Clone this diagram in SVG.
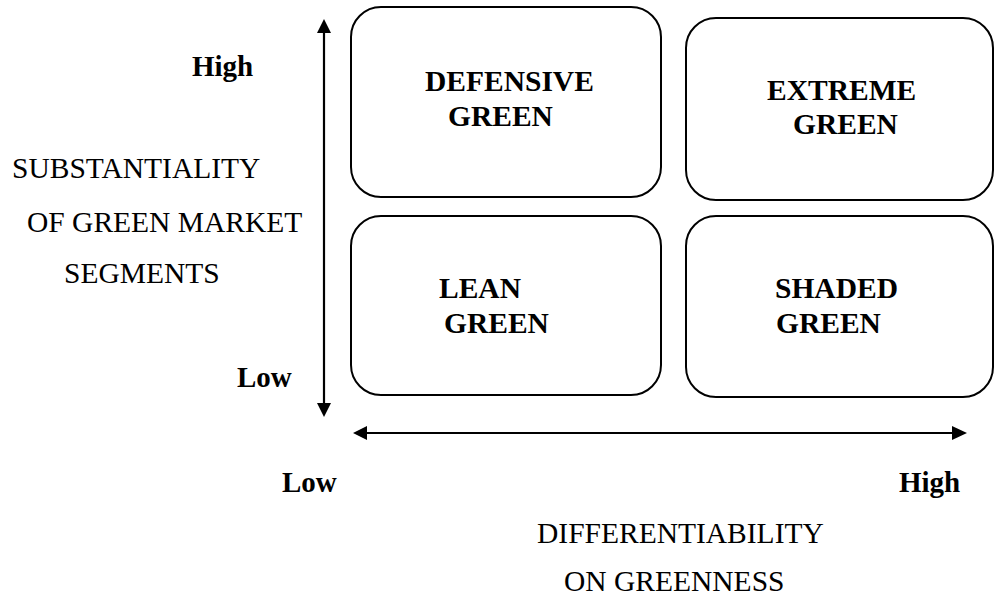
<svg xmlns="http://www.w3.org/2000/svg" width="995" height="597" viewBox="0 0 995 597">
<style>
.box{fill:#fff;stroke:#000;stroke-width:2}
.lbl{font-family:"Liberation Serif","Times New Roman",serif;font-size:29.5px;font-weight:bold;fill:#000}
.ax{font-family:"Liberation Serif","Times New Roman",serif;font-size:29.5px;fill:#000}
.axb{font-family:"Liberation Serif","Times New Roman",serif;font-size:29px;font-weight:bold;fill:#000}
.arr{stroke:#000;stroke-width:2.2;fill:none}
</style>
<defs>
<marker id="ah" viewBox="0 0 14 14" refX="14" refY="7" markerWidth="14" markerHeight="14" markerUnits="userSpaceOnUse" orient="auto-start-reverse">
<path d="M0,0 L14,7 L0,14 Z" fill="#000"/>
</marker>
</defs>
<rect width="995" height="597" fill="#fff"/>
<g id="connectors">
<line class="arr" x1="324" y1="403" x2="324" y2="33"/>
<path d="M317,33 L324,19 L331,33 Z" fill="#000"/>
<path d="M317,403 L324,417 L331,403 Z" fill="#000"/>
<line class="arr" x1="367" y1="433" x2="952" y2="433"/>
<path d="M367,426 L353,433 L367,440 Z" fill="#000"/>
<path d="M952,426 L967,433 L952,440 Z" fill="#000"/>
</g>
<g id="defensive">
<rect class="box" x="351" y="7" width="310" height="190" rx="30"/>
<text class="lbl" x="425" y="91">DEFENSIVE</text>
<text class="lbl" x="448" y="126">GREEN</text>
</g>
<g id="extreme">
<rect class="box" x="686" y="18" width="307" height="182" rx="30"/>
<text class="lbl" x="767" y="100">EXTREME</text>
<text class="lbl" x="793" y="134">GREEN</text>
</g>
<g id="lean">
<rect class="box" x="351" y="216" width="310" height="179" rx="30"/>
<text class="lbl" x="439" y="298">LEAN</text>
<text class="lbl" x="444" y="333">GREEN</text>
</g>
<g id="shaded">
<rect class="box" x="686" y="216" width="307" height="181" rx="30"/>
<text class="lbl" x="775" y="298">SHADED</text>
<text class="lbl" x="776" y="333">GREEN</text>
</g>
<g id="y-axis-labels">
<text class="axb" x="192" y="76">High</text>
<text class="ax" x="12" y="178">SUBSTANTIALITY</text>
<text class="ax" x="27" y="232">OF GREEN MARKET</text>
<text class="ax" x="64" y="283">SEGMENTS</text>
<text class="axb" x="237" y="387">Low</text>
</g>
<g id="x-axis-labels">
<text class="axb" x="282" y="492">Low</text>
<text class="axb" x="899" y="492">High</text>
<text class="ax" x="537" y="543">DIFFERENTIABILITY</text>
<text class="ax" x="564" y="591">ON GREENNESS</text>
</g>
</svg>
